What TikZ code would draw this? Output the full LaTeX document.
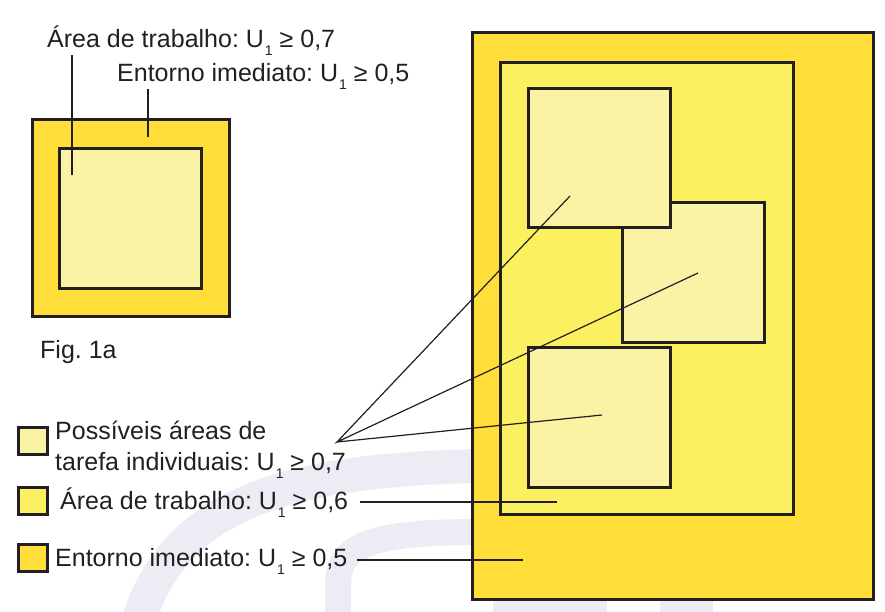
\documentclass[tikz,border=0pt]{standalone}
\usepackage{fontspec}
\setmainfont{Liberation Sans}
\definecolor{ink}{RGB}{35,31,32}
\definecolor{ouro}{RGB}{255,222,58}
\definecolor{limao}{RGB}{251,240,96}
\definecolor{palha}{RGB}{250,243,165}
\definecolor{marca}{RGB}{236,236,245}
\newcommand{\Uum}{U\kern1pt\raisebox{-0.32em}{\fontsize{14}{14}\selectfont 1}}
\frenchspacing
\begin{document}
\begin{tikzpicture}[x=1pt,y=-1pt,
    txt/.style={font=\fontsize{25}{30}\selectfont,inner sep=0pt,anchor=base west,text=ink},
    zone/.style={draw=ink,line width=3pt},
    entorno/.style={zone,fill=ouro},
    trabalho/.style={zone,fill=limao},
    tarefa/.style={zone,fill=palha},
    swatch/.style={zone,inner sep=0pt,minimum width=29pt,minimum height=27pt},
    leader/.style={draw=ink,line width=1.2pt}]
  \useasboundingbox (0,0) rectangle (885,612);
  % faint watermark behind everything
  \begin{scope}
    \clip (0,0) rectangle (885,612);
    \draw[marca,line width=34pt] (133,640) .. controls (165,505) and (280,470) .. (480,466);
    \draw[marca,line width=26pt] (338,640) -- (338,585) .. controls (338,545) and (370,532) .. (480,532);
    \fill[marca] (493,598) rectangle (607,612);
    \fill[marca] (660,598) rectangle (713,612);
  \end{scope}
  % fig. 1a
  \begin{scope}
    \draw[entorno] (32,120) rectangle (229,316);
    \draw[tarefa] (59,149) rectangle (201,288);
    \node[txt] (lblArea) at (47,48) {Área de trabalho: \Uum\ ≥ 0,7};
    \node[txt] (lblEnt) at (117,82) {Entorno imediato: \Uum\ ≥ 0,5};
    \node[txt] (fig) at (40,358) {Fig. 1a};
    \coordinate (areaTop) at (72,55);
    \coordinate (areaEnd) at (72,175);
    \coordinate (entTop) at (148,89);
    \coordinate (entEnd) at (148,137);
    \draw[leader] (areaTop) -- (areaEnd);
    \draw[leader] (entTop) -- (entEnd);
  \end{scope}
  % the large layout
  \begin{scope}
    \draw[entorno] (472,33) rectangle (873,599);
    \draw[trabalho] (500,63) rectangle (793,514);
    \draw[tarefa] (622,203) rectangle (764,342);
    \draw[tarefa] (528,89) rectangle (670,228);
    \draw[tarefa] (528,347) rectangle (670,487);
    \coordinate (sq1) at (570,196);
    \coordinate (sq2) at (698,273);
    \coordinate (sq3) at (602,415);
    \coordinate (trabEnd) at (557,502);
    \coordinate (entornoEnd) at (523,560);
  \end{scope}
  % legend
  \begin{scope}
    \node[swatch,fill=palha] (swTarefa) at (32.5,440.5) {};
    \node[swatch,fill=limao] (swTrab) at (32.5,500.5) {};
    \node[swatch,fill=ouro] (swEnt) at (32.5,557.5) {};
    \node[txt] (lblPoss) at (55,439) {Possíveis áreas de};
    \node[txt] (lblTarefa) at (55,470) {tarefa individuais: \Uum\ ≥ 0,7};
    \node[txt] (lblTrab) at (60,509) {Área de trabalho: \Uum\ ≥ 0,6};
    \node[txt] (lblEntorno) at (55,566) {Entorno imediato: \Uum\ ≥ 0,5};
    \coordinate (hub) at (337,442);
    \coordinate (trabStart) at ([xshift=12pt]lblTrab.east);
    \coordinate (entornoStart) at ([xshift=9pt]lblEntorno.east);
    \draw[leader] (sq1) -- (hub) -- (sq2) (hub) -- (sq3);
    \draw[leader] (trabStart |- trabEnd) -- (trabEnd);
    \draw[leader] (entornoStart |- entornoEnd) -- (entornoEnd);
  \end{scope}
\end{tikzpicture}
\end{document}
